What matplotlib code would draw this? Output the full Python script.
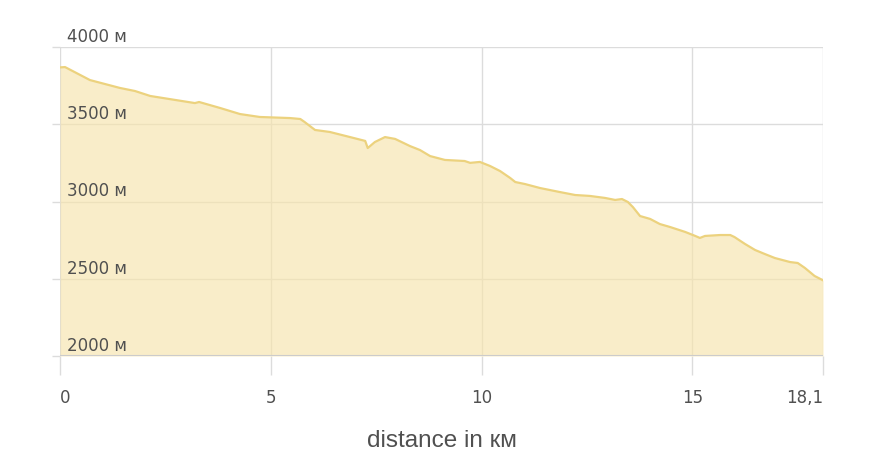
import matplotlib.pyplot as plt

# elevation profile
dist_km = [0, 0.12, 0.71, 1.42, 1.78, 2.14, 2.6, 3.2, 3.3, 3.8, 4.27, 4.74, 5.46, 5.7,
           5.8, 6.05, 6.4, 6.88, 7.24, 7.3, 7.47, 7.71, 7.95, 8.3, 8.54, 8.78, 9.13,
           9.6, 9.73, 9.96, 10.2, 10.44, 10.68, 10.8, 11.03, 11.39, 11.86, 12.22,
           12.57, 12.93, 13.17, 13.33, 13.47, 13.59, 13.76, 14.0, 14.23, 14.47,
           14.83, 15.07, 15.18, 15.3, 15.66, 15.9, 16.0, 16.25, 16.49, 16.72, 16.96,
           17.32, 17.5, 17.67, 17.9, 18.1]
elev_m = [3868, 3870, 3786, 3735, 3715, 3683, 3663, 3637, 3644, 3605, 3566, 3547, 3540, 3534,
          3515, 3463, 3450, 3417, 3392, 3346, 3385, 3417, 3405, 3359, 3333, 3294, 3269,
          3262, 3250, 3256, 3230, 3197, 3152, 3126, 3113, 3087, 3061, 3042,
          3036, 3023, 3010, 3016, 2997, 2964, 2906, 2887, 2854, 2835,
          2803, 2777, 2764, 2777, 2783, 2783, 2770, 2725, 2686, 2660, 2634,
          2608, 2602, 2570, 2518, 2490]

x_ticks = [0, 5, 10, 15, 18.1]
x_labels = ["0", "5", "10", "15", "18,1"]
y_ticks = [2000, 2500, 3000, 3500, 4000]
y_labels = ["2000 м", "2500 м", "3000 м", "3500 м", "4000 м"]

plt.rcParams['font.family'] = ['DejaVu Sans']
grid_c = "#dcdcdc"
text_c = "#505050"

fig = plt.figure(figsize=(8.84, 4.70), dpi=100)
ax = fig.add_axes([60/884, 1 - 356/470, 763/884, 309/470])

ax.fill_between(dist_km, elev_m, 2000, color="#f7e4ac", alpha=0.65, lw=0, zorder=2)
ax.plot(dist_km, elev_m, color="#ecd27e", lw=1.6, zorder=3)

ax.set_xlim(0, 18.1)
ax.set_ylim(2000, 4000)
ax.set_xticks(x_ticks)
ax.set_xticklabels(x_labels)
ax.set_yticks(y_ticks)
ax.set_yticklabels([])
ax.grid(True, color=grid_c, lw=1, zorder=1)
ax.set_axisbelow(True)
for s in ax.spines.values():
    s.set_visible(False)
ax.axhline(2000, color="#cccccc", lw=1.5, zorder=4)

ax.tick_params(axis='x', length=14, color=grid_c, width=1, pad=10, labelsize=12,
               labelcolor=text_c)
ax.tick_params(axis='y', length=6, color=grid_c, width=1)
tl = ax.get_xticklabels()
tl[0].set_ha('left')
tl[-1].set_ha('right')

for v, lab in zip(y_ticks, y_labels):
    ax.text(0.17, v + 8, lab, fontsize=12, color=text_c, ha='left', va='bottom', zorder=5)

ax.set_xlabel("distance in км", fontsize=17.5, color=text_c, labelpad=16,
              family=['Liberation Sans', 'DejaVu Sans'])

fig.savefig("out.png", dpi=100)
